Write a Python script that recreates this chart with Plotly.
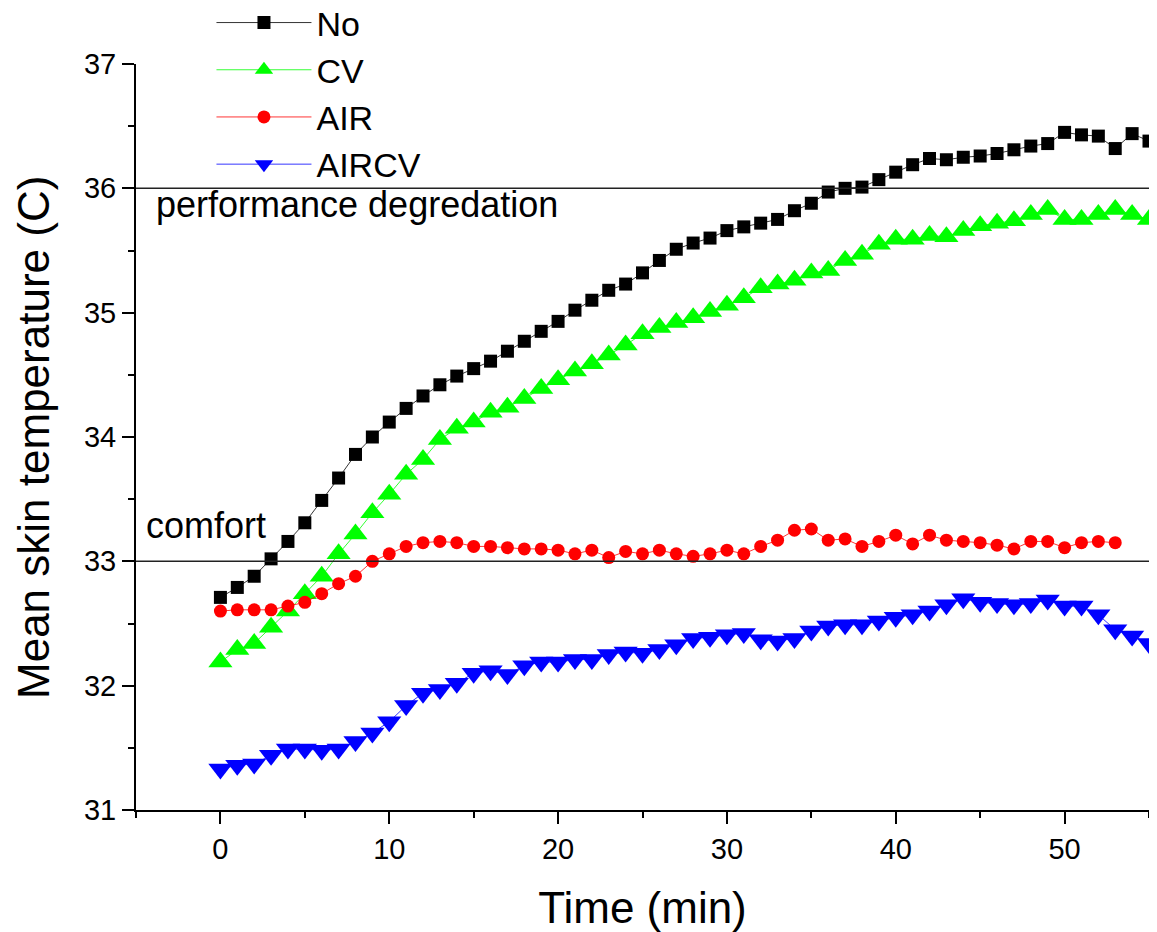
import plotly.graph_objects as go

time_min = list(range(56))
time_air = list(range(54))

no_vals = [32.71, 32.79, 32.88, 33.02, 33.16, 33.31, 33.49, 33.67, 33.86, 34.00,
           34.12, 34.23, 34.33, 34.42, 34.49, 34.55, 34.61, 34.69, 34.77, 34.85,
           34.93, 35.02, 35.10, 35.18, 35.23, 35.32, 35.42, 35.51, 35.56, 35.60,
           35.66, 35.69, 35.72, 35.75, 35.82, 35.88, 35.97, 36.00, 36.01, 36.07,
           36.13, 36.19, 36.24, 36.23, 36.25, 36.26, 36.28, 36.31, 36.34, 36.36,
           36.45, 36.43, 36.42, 36.32, 36.44, 36.38]

cv_vals = [32.19, 32.29, 32.34, 32.47, 32.60, 32.74, 32.88, 33.06, 33.22, 33.39,
           33.54, 33.70, 33.82, 33.98, 34.07, 34.12, 34.20, 34.24, 34.31, 34.39,
           34.46, 34.53, 34.59, 34.66, 34.74, 34.83, 34.88, 34.92, 34.96, 35.01,
           35.06, 35.12, 35.20, 35.23, 35.26, 35.32, 35.34, 35.42, 35.47, 35.55,
           35.59, 35.59, 35.62, 35.61, 35.66, 35.70, 35.72, 35.74, 35.79, 35.83,
           35.75, 35.75, 35.79, 35.83, 35.79, 35.75]

air_vals = [32.60, 32.61, 32.61, 32.61, 32.64, 32.67, 32.74, 32.82, 32.88, 33.00,
            33.06, 33.12, 33.15, 33.16, 33.15, 33.12, 33.12, 33.11, 33.10, 33.10,
            33.09, 33.06, 33.09, 33.03, 33.08, 33.06, 33.09, 33.06, 33.04, 33.06,
            33.09, 33.06, 33.12, 33.17, 33.25, 33.26, 33.17, 33.18, 33.12, 33.16,
            33.21, 33.14, 33.21, 33.17, 33.16, 33.15, 33.13, 33.10, 33.16, 33.16,
            33.11, 33.15, 33.16, 33.15]

aircv_vals = [31.33, 31.36, 31.37, 31.44, 31.49, 31.49, 31.48, 31.49, 31.55, 31.62,
              31.71, 31.84, 31.94, 31.97, 32.02, 32.10, 32.12, 32.09, 32.16, 32.19,
              32.19, 32.21, 32.21, 32.25, 32.27, 32.26, 32.29, 32.33, 32.38, 32.39,
              32.41, 32.42, 32.37, 32.36, 32.38, 32.44, 32.48, 32.49, 32.49, 32.52,
              32.55, 32.57, 32.60, 32.65, 32.70, 32.67, 32.66, 32.65, 32.66, 32.69,
              32.64, 32.64, 32.57, 32.45, 32.40, 32.34]

comfort_level = 33
degradation_level = 36

FONT = "Liberation Sans, Arial, sans-serif"

fig = go.Figure()

series = [
    ("No", time_min, no_vals, "#000000", "square", 13),
    ("CV", time_min, cv_vals, "#00ff00", "triangle-up", 21),
    ("AIR", time_air, air_vals, "#ff0000", "circle", 13),
    ("AIRCV", time_min, aircv_vals, "#0000ff", "triangle-down", 21),
]
for name, xs, ys, color, sym, size in series:
    fig.add_trace(go.Scatter(
        x=xs, y=ys, name=name, mode="lines+markers",
        line=dict(color=color, width=0.8),
        marker=dict(symbol=sym, size=size, color=color, line=dict(width=0)),
        cliponaxis=False,
    ))

for lvl in (comfort_level, degradation_level):
    fig.add_shape(type="line", xref="paper", yref="y", x0=0, x1=1.02,
                  y0=lvl, y1=lvl, line=dict(color="#222222", width=1.5),
                  layer="above")

fig.add_annotation(x=0.018, xref="paper", y=degradation_level, yref="y",
                   yshift=6, xanchor="left", yanchor="top",
                   text="performance degredation", showarrow=False,
                   font=dict(family=FONT, size=36, color="black"))
fig.add_annotation(x=0.008, xref="paper", y=comfort_level, yref="y",
                   yshift=13, xanchor="left", yanchor="bottom",
                   text="comfort", showarrow=False,
                   font=dict(family=FONT, size=36, color="black"))
# y-axis title
fig.add_annotation(x=-0.1017, xref="paper", y=0.5, yref="paper",
                   xanchor="center", yanchor="middle", textangle=-90,
                   text="Mean skin temperature (C)", showarrow=False,
                   font=dict(family=FONT, size=44, color="black"))

fig.update_layout(
    width=1157, height=932,
    margin=dict(l=128, r=16, t=56, b=130, autoexpand=False),
    paper_bgcolor="white", plot_bgcolor="white",
    font=dict(family=FONT, color="black"),
    showlegend=True,
    legend=dict(x=0.0745, y=1.0939, xanchor="left", yanchor="top",
                font=dict(family=FONT, size=34, color="black"),
                bgcolor="rgba(0,0,0,0)", itemwidth=95,
                tracegroupgap=0),
    xaxis=dict(range=[-5, 55], tickmode="linear", tick0=0, dtick=10,
               showline=True, linecolor="black", linewidth=2,
               ticks="outside", ticklen=12, tickwidth=2, tickcolor="black",
               minor=dict(ticks="outside", ticklen=6, tickwidth=2,
                          tickcolor="black", dtick=5, tick0=0),
               showgrid=False, zeroline=False, automargin=False,
               tickfont=dict(family=FONT, size=29),
               title=dict(text="Time (min)", font=dict(family=FONT, size=44),
                          standoff=28)),
    yaxis=dict(range=[31, 37], tickmode="linear", tick0=31, dtick=1,
               showline=True, linecolor="black", linewidth=2,
               ticks="outside", ticklen=12, tickwidth=2, tickcolor="black",
               minor=dict(ticks="outside", ticklen=6, tickwidth=2,
                          tickcolor="black", dtick=0.5),
               showgrid=False, zeroline=False, automargin=False,
               tickfont=dict(family=FONT, size=29)),
)

fig.write_html("out.html")
